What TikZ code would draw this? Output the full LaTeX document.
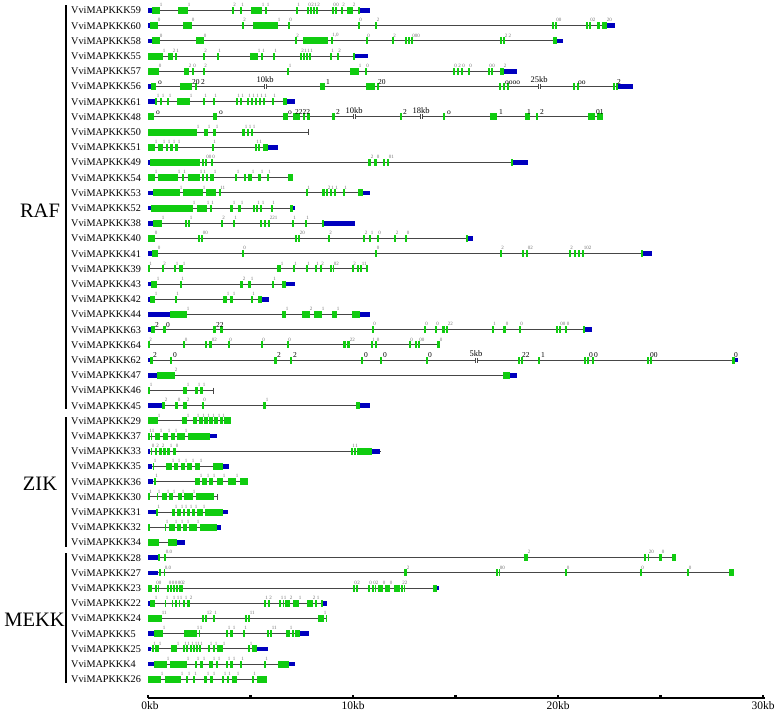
\documentclass[tikz,border=0pt]{standalone}
\usepackage{fontspec}
\setmainfont{Liberation Serif}
\definecolor{exgreen}{RGB}{16,204,16}
\definecolor{utrblue}{RGB}{0,0,190}
\definecolor{intr}{RGB}{70,70,70}
\tikzset{
 intron/.style={draw=intr,line width=0.9pt},
 exon/.style={fill=exgreen},
 utr/.style={fill=utrblue},
 gname/.style={anchor=west,inner sep=0pt,font=\fontsize{10.2}{10}\selectfont},
 ph/.style={anchor=south west,inner sep=0pt,text=black!55,font=\fontsize{5}{5}\selectfont},
 phb/.style={anchor=south west,inner sep=0pt,text=black,font=\fontsize{7.5}{7.5}\selectfont},
 grp/.style={font=\fontsize{20.5}{20.5}\selectfont,inner sep=0pt},
 axl/.style={anchor=north,inner sep=0pt,font=\fontsize{11.5}{11.5}\selectfont},
}
\newcommand\gRow[3]{\pgfmathsetmacro\Y{10.5+#1*15.2}\node[gname] (g#2) at (71,\Y) {VviMAPKKK#2};\draw[intron] (148,\Y) -- (#3,\Y);}
\newcommand\gEx[3]{\fill[exon] (#1,\Y-3.5) rectangle (#2,\Y+3.5);\if\relax\detokenize{#3}\relax\else\node[ph] at (#2-0.3,\Y-3.6) {#3};\fi}
\newcommand\gUt[2]{\fill[utr] (#1,\Y-2.3) rectangle (#2,\Y+2.3);}
\newcommand\gLb[2]{\node[phb] at (#1,\Y-2) {#2};}
\newcommand\gBrk[2]{\fill[white] (#1-0.5,\Y-0.9) rectangle (#1+2.5,\Y+0.9);\draw[intr,line width=0.5pt] (#1,\Y-2.5) -- (#1,\Y+2.5) (#1+2,\Y-2.5) -- (#1+2,\Y+2.5);\node[anchor=south,inner sep=0pt,font=\fontsize{8.5}{8.5}\selectfont] at (#1+1,\Y-3.5) {#2};}
\newcommand\gTick[1]{\draw[intr,line width=0.7pt] (#1,\Y-3) -- (#1,\Y+3);}
\begin{document}
\begin{tikzpicture}[x=1pt,y=-1pt]
\useasboundingbox (0,0) rectangle (778,712);
\fill[white] (0,0) rectangle (778,712);
% group bars
\draw[line width=1.8pt] (66,5) -- (66,409);
\draw[line width=1.8pt] (66,417) -- (66,547);
\draw[line width=1.8pt] (66,553) -- (66,683);
\node[grp] (raf) at (40,211) {RAF};
\node[grp] (zik) at (40,484) {ZIK};
\node[grp] (mekk) at (34.5,620) {MEKK};
% RAF
\gRow{0}{59}{370}\gUt{148}{152}\gEx{152}{160}{1}\gEx{178}{188}{1}\gEx{232}{233.5}{2}\gEx{240}{241.5}{1}\gEx{251}{262}{1}\gEx{265}{267}{1}\gEx{296}{297.5}{1}\gEx{307}{308.5}{0}\gEx{310}{311.5}{2}\gEx{313}{314.5}{1}\gEx{316}{317.5}{2}\gEx{332}{333.5}{0}\gEx{335}{336.5}{0}\gEx{341}{342.5}{2}\gEx{347}{353}{2}\gEx{358}{360}{}\gUt{360}{370}
\gRow{1}{60}{615}\gUt{148}{150}\gEx{150}{158}{0}\gEx{183}{192}{0}\gEx{242}{243.5}{2}\gEx{253}{278}{1}\gEx{288}{289.5}{0}\gEx{358}{359.5}{0}\gEx{375}{377}{2}\gEx{552}{553.5}{}\gEx{555}{556.5}{00}\gEx{586}{587.5}{}\gEx{589}{590.5}{02}\gEx{597}{600}{}\gEx{602}{607}{20}\gUt{607}{615}
\gRow{2}{58}{563}\gUt{148}{152}\gEx{152}{160}{0}\gEx{196}{204}{0}\gEx{295}{296.5}{2}\gEx{303}{328}{}\gEx{331}{332.5}{1,0}\gEx{366}{367.5}{0}\gEx{392}{393.5}{2}\gEx{405}{406.5}{}\gEx{408}{409.5}{}\gEx{411}{412.5}{000}\gEx{500}{501.5}{}\gEx{503}{505}{2 2}\gEx{553}{557}{}\gUt{557}{563}
\gRow{3}{55}{368}\gEx{148}{163}{1}\gEx{168}{173}{2}\gEx{175}{176.5}{1}\gEx{203}{204.5}{2}\gEx{217}{218.5}{1}\gEx{250}{258}{1}\gEx{261}{262.5}{1}\gEx{273}{274.5}{1}\gEx{300}{301.5}{2}\gEx{303}{304.5}{1}\gEx{306}{307.5}{1}\gEx{309}{310.5}{1}\gEx{330}{331.5}{1}\gEx{337}{338.5}{2}\gEx{353}{355}{}\gUt{355}{368}
\gRow{4}{57}{517}\gEx{148}{159}{0}\gEx{184}{189}{2}\gEx{192}{193.5}{0}\gEx{203}{204.5}{2}\gEx{287}{289}{1}\gEx{350}{359}{1}\gEx{365}{366.5}{0}\gEx{453}{454.5}{0}\gEx{457}{458.5}{2}\gEx{461}{462.5}{0}\gEx{468}{469.5}{0}\gEx{488}{489.5}{0}\gEx{491}{492.5}{0}\gEx{500}{501.5}{}\gEx{502}{504}{2}\gUt{504}{517}
\gRow{5}{56}{633}\gUt{148}{151}\gEx{151}{156}{}\gLb{158}{o}\gEx{180}{192}{}\gEx{195}{196.5}{}\gLb{192}{20}\gLb{201}{2}\gBrk{264}{10kb}\gEx{320}{325}{}\gLb{326}{1}\gEx{366}{375}{}\gEx{377}{378.5}{}\gLb{378}{20}\gEx{499}{500.5}{}\gEx{503}{505}{}\gEx{507}{508.5}{}\gLb{505}{oooo}\gBrk{538}{25kb}\gEx{573}{575}{}\gEx{577}{579}{}\gLb{578}{oo}\gEx{613}{614.5}{}\gEx{616}{618}{}\gLb{617}{2}\gUt{618}{633}
\gRow{6}{61}{295}\gUt{148}{155}\gEx{155}{157}{1}\gEx{160}{162}{1}\gEx{167}{169}{1}\gEx{177}{190}{1}\gEx{203}{204.5}{1}\gEx{213}{214.5}{1}\gEx{236}{237.5}{1}\gEx{240}{241.5}{1}\gEx{247}{248.5}{1}\gEx{251}{252.5}{1}\gEx{255}{256.5}{1}\gEx{259}{260.5}{1}\gEx{263}{264.5}{1}\gEx{272}{273.5}{1}\gEx{283}{287}{}\gUt{287}{295}
\gRow{7}{48}{603}\gEx{148}{154}{}\gLb{156}{o}\gEx{213}{217}{}\gLb{219}{o}\gEx{283}{288}{}\gLb{288}{o}\gEx{293}{300}{}\gEx{303}{305}{}\gEx{307}{310}{}\gLb{295}{2222}\gEx{332}{335}{}\gLb{336}{2}\gBrk{353}{10kb}\gEx{400}{401.5}{}\gLb{403}{2}\gBrk{420}{18kb}\gEx{443}{445}{}\gLb{447}{o}\gEx{490}{497}{}\gLb{499}{1}\gEx{525}{530}{}\gLb{527}{1}\gEx{536}{538}{}\gLb{540}{2}\gEx{588}{595}{}\gEx{597}{603}{}\gLb{596}{01}
\gRow{8}{50}{308}\gEx{148}{197}{1}\gEx{204}{208}{1}\gEx{213}{216}{1}\gEx{242}{245}{1}\gEx{247}{249}{1}\gEx{251}{253}{1}\gTick{308}
\gRow{9}{51}{278}\gEx{148}{155}{1}\gEx{158}{163}{1}\gEx{166}{168}{1}\gEx{170}{173}{1}\gEx{175}{178}{1}\gEx{212}{213.5}{1}\gEx{255}{256.5}{1}\gEx{258}{259.5}{1}\gEx{263}{268}{}\gUt{268}{278}
\gRow{10}{49}{528}\gUt{148}{150}\gEx{150}{200}{}\gEx{202}{203.5}{}\gEx{205}{206.5}{00}\gEx{211}{212.5}{0}\gEx{368}{371}{2}\gEx{374}{377}{0}\gEx{383}{385}{}\gEx{387}{389}{01}\gEx{511}{513}{}\gUt{513}{528}
\gRow{11}{54}{293}\gEx{148}{155}{1}\gEx{158}{178}{1}\gEx{182}{183.5}{1}\gEx{188}{200}{1}\gEx{202}{203.5}{1}\gEx{206}{208}{}\gEx{210}{214}{1}\gEx{235}{237}{1}\gEx{244}{246}{}\gEx{248}{252}{1}\gEx{258}{261}{1}\gEx{267}{268.5}{1}\gEx{288}{293}{}
\gRow{12}{53}{370}\gUt{148}{153}\gEx{153}{180}{1}\gEx{183}{203}{1}\gEx{206}{216}{}\gEx{219}{220.5}{11}\gEx{306}{307.5}{1}\gEx{322}{325}{}\gEx{326}{328}{2}\gEx{330}{331.5}{1}\gEx{334}{335.5}{1}\gEx{343}{344.5}{1}\gEx{358}{363}{}\gUt{363}{370}
\gRow{13}{52}{295}\gUt{148}{151}\gEx{151}{193}{1}\gEx{197}{207}{1}\gEx{210}{211.5}{1}\gEx{230}{233}{1}\gEx{238}{241}{1}\gEx{253}{255}{}\gEx{256}{257.5}{1}\gEx{260}{262}{1}\gEx{271}{272.5}{1}\gEx{290}{293}{}\gUt{293}{295}
\gRow{14}{38}{355}\gUt{148}{153}\gEx{153}{162}{1}\gEx{185}{187}{}\gEx{188}{190}{1}\gEx{221}{222.5}{2}\gEx{233}{234.5}{1}\gEx{260}{262}{}\gEx{264}{266}{}\gEx{268}{270}{221}\gEx{292}{293.5}{1}\gEx{305}{306.5}{1}\gEx{322}{324}{}\gUt{324}{355}
\gRow{15}{40}{473}\gEx{148}{155}{0}\gEx{198}{200}{}\gEx{201}{203}{00}\gEx{295}{297}{}\gEx{298}{300}{20}\gEx{328}{329.5}{2}\gEx{363}{365}{2}\gEx{369}{371}{1}\gEx{377}{378.5}{0}\gEx{394}{396}{2}\gEx{405}{407}{0}\gEx{466}{468}{}\gUt{468}{473}
\gRow{16}{41}{652}\gUt{148}{152}\gEx{152}{158}{0}\gEx{242}{243.5}{0}\gEx{375}{377}{0}\gEx{500}{501.5}{2}\gEx{522}{524}{}\gEx{526}{528}{02}\gEx{569}{570.5}{2}\gEx{574}{575.5}{}\gEx{578}{579.5}{}\gEx{582}{584}{102}\gEx{641}{643}{}\gUt{643}{652}
\gRow{17}{39}{367}\gEx{148}{149.5}{1}\gEx{162}{163.5}{2}\gEx{174}{176}{1}\gEx{179}{183}{1}\gEx{277}{281}{1}\gEx{293}{294.5}{1}\gEx{306}{307.5}{1}\gEx{315}{316.5}{1}\gEx{320}{321.5}{2}\gEx{330}{331.5}{}\gEx{332.5}{334}{02}\gEx{352}{353.5}{2}\gEx{357}{358.5}{}\gEx{360}{362}{11}\gEx{366}{367.5}{}
\gRow{18}{43}{295}\gUt{148}{151}\gEx{151}{157}{1}\gEx{180}{181.5}{1}\gEx{240}{243}{2}\gEx{248}{251}{1}\gEx{272}{273.5}{1}\gEx{282}{286}{}\gUt{286}{295}
\gRow{19}{42}{269}\gUt{148}{150}\gEx{150}{155}{1}\gEx{175}{176.5}{1}\gEx{223}{227}{1}\gEx{230}{233}{1}\gEx{251}{252.5}{1}\gEx{258}{262}{}\gUt{262}{269}
\gRow{20}{44}{370}\gUt{148}{170}\gEx{170}{187}{1}\gEx{282}{286}{1}\gEx{302}{310}{2}\gEx{314}{322}{1}\gEx{332}{337}{1}\gEx{352}{360}{}\gUt{360}{370}
\gRow{21}{63}{592}\gUt{148}{151}\gEx{151}{155}{}\gLb{155}{2}\gEx{163}{166}{}\gLb{166}{0}\gEx{213}{216}{}\gEx{220}{223}{}\gLb{216}{22}\gEx{372}{373.5}{0}\gEx{424}{425.5}{0}\gEx{435}{436.5}{0}\gEx{442}{445}{}\gEx{446}{448}{22}\gEx{492}{493.5}{1}\gEx{503}{506}{0}\gEx{519}{520.5}{0}\gEx{556}{557.5}{}\gEx{559}{560.5}{00}\gEx{565}{567}{0}\gEx{583}{585}{}\gUt{585}{592}
\gRow{22}{64}{440}\gEx{148}{149.5}{2}\gEx{183}{185}{0}\gEx{205}{207}{}\gEx{209}{212}{02}\gEx{228}{229.5}{0}\gEx{261}{262.5}{0}\gEx{287}{288.5}{0}\gEx{343}{346}{}\gEx{347}{350}{22}\gEx{371}{372.5}{1}\gEx{375}{377}{0}\gEx{409}{410.5}{0}\gEx{415}{416.5}{}\gEx{418}{419.5}{00}\gEx{437}{440}{0}
\gRow{23}{62}{738}\gUt{148}{150}\gEx{150}{153}{}\gLb{153}{2}\gEx{170}{172}{}\gLb{173}{0}\gEx{274}{277}{}\gLb{277}{2}\gEx{290}{292}{}\gLb{293}{2}\gEx{361}{363}{}\gLb{364}{0}\gEx{380}{382}{}\gLb{383}{0}\gEx{426}{427.5}{}\gLb{428}{0}\gBrk{475}{5kb}\gEx{518}{520}{}\gEx{521}{523}{}\gLb{522}{22}\gEx{538}{539.5}{}\gLb{541}{1}\gEx{584}{586}{}\gEx{587}{589}{}\gLb{589}{0}\gEx{592}{593.5}{}\gLb{594}{0}\gEx{647}{649}{}\gEx{650}{651.5}{}\gLb{650}{00}\gEx{732}{735}{}\gUt{735}{738}\gLb{734}{0}
\gRow{24}{47}{517}\gUt{148}{157}\gEx{157}{175}{2}\gEx{503}{510}{}\gUt{510}{517}
\gRow{25}{46}{213}\gEx{148}{150}{1}\gEx{183}{187}{1}\gEx{195}{198}{1}\gEx{200}{203}{1}\gTick{213}
\gRow{26}{45}{370}\gUt{148}{162}\gEx{162}{165}{2}\gEx{175}{178}{0}\gEx{183}{187}{2}\gEx{202}{203.5}{0}\gEx{263}{266}{1}\gEx{356}{360}{}\gUt{360}{370}
% ZIK
\gRow{27}{29}{231}\gEx{148}{158}{1}\gEx{182}{187}{1}\gEx{193}{197}{1}\gEx{199}{202.5}{1}\gEx{204}{207.5}{1}\gEx{209}{212.5}{1}\gEx{214}{218}{1}\gEx{219.5}{222.5}{1}\gEx{224}{231}{}
\gRow{28}{37}{217}\gEx{148}{149.5}{1}\gEx{150.5}{152}{1}\gEx{155}{160}{1}\gEx{163}{168}{1}\gEx{171}{175}{1}\gEx{177}{185}{1}\gEx{188}{210}{}\gUt{210}{217}
\gRow{29}{33}{381}\gUt{148}{150}\gEx{150.5}{152}{0}\gEx{155}{156.5}{2}\gEx{159}{162}{2}\gEx{163}{166}{}\gEx{167}{170}{1}\gEx{173}{176}{0}\gEx{351}{352.5}{1}\gEx{354}{355.5}{1}\gEx{357}{372}{}\gUt{372}{380}
\gRow{30}{35}{229}\gUt{148}{152}\gEx{152.5}{154}{1}\gEx{166}{172}{1}\gEx{173.5}{178}{1}\gEx{181}{185}{1}\gEx{187}{192}{1}\gEx{195}{200}{1}\gEx{213}{223}{}\gUt{223}{229}
\gRow{31}{36}{248}\gUt{148}{153}\gEx{154}{155.5}{1}\gEx{195}{200}{1}\gEx{202}{207}{1}\gEx{208.5}{213}{1}\gEx{217}{223}{1}\gEx{228}{236}{1}\gEx{240}{248}{}
\gRow{32}{30}{217}\gEx{148}{149.5}{1}\gEx{156.5}{158}{1}\gEx{162}{167}{1}\gEx{168.5}{173}{1}\gEx{178}{182}{1}\gEx{184}{193}{1}\gEx{196}{214}{}\gTick{217}
\gRow{33}{31}{228}\gUt{148}{156}\gEx{156}{157.5}{1}\gEx{172}{175}{1}\gEx{177}{181}{1}\gEx{182.5}{185}{1}\gEx{187}{190}{1}\gEx{192}{195}{1}\gEx{197}{203}{1}\gEx{205}{223}{}\gUt{223}{228}
\gRow{34}{32}{221}\gEx{148}{149.5}{}\gEx{164.5}{166}{1}\gEx{169}{175}{1}\gEx{177}{181}{1}\gEx{183}{187}{1}\gEx{188.5}{197}{1}\gEx{200}{217}{}\gUt{217}{221}
\gRow{35}{34}{185}\gEx{148}{159}{}\gEx{168}{177}{}\gUt{177}{185}
% MEKK
\gRow{36}{28}{676}\gUt{148}{158}\gEx{158}{160}{}\gEx{164}{166}{0.0}\gEx{524}{528}{2}\gEx{644}{646}{}\gEx{647.5}{649}{20}\gEx{659}{662}{0}\gEx{672}{676}{}
\gRow{37}{27}{734}\gUt{148}{158}\gEx{158.5}{160.5}{}\gEx{163.5}{165}{0.0}\gEx{404}{407}{2}\gEx{496}{497.5}{}\gEx{498.5}{500}{00}\gEx{565}{567}{0}\gEx{640}{641.5}{0}\gEx{687}{689}{0}\gEx{729}{734}{}
\gRow{38}{23}{439}\gEx{148}{152}{}\gEx{155}{156.5}{0}\gEx{157.5}{159}{0}\gEx{167}{169}{0}\gEx{170}{172}{0}\gEx{173}{175}{0}\gEx{176}{178}{0}\gEx{179}{180.5}{0}\gEx{181}{182.5}{2}\gEx{353}{354.5}{0}\gEx{356}{357.5}{2}\gEx{368}{369.5}{0}\gEx{372}{373.5}{0}\gEx{374.5}{376}{2}\gEx{378}{383}{0}\gEx{385}{390}{0}\gEx{394}{400}{}\gEx{401}{402.5}{2}\gEx{403.5}{405}{2}\gEx{433}{437}{}\gUt{437}{439}
\gRow{39}{22}{327}\gUt{148}{150}\gEx{150}{155}{1}\gEx{164.5}{166}{1}\gEx{171.5}{173}{1}\gEx{175}{177}{1}\gEx{178.5}{180}{1}\gEx{183}{185}{1}\gEx{187}{190}{2}\gEx{264}{265.5}{1}\gEx{268}{269.5}{2}\gEx{279}{281}{1}\gEx{282.5}{284}{1}\gEx{285}{290}{2}\gEx{293}{299}{1}\gEx{307}{313}{2}\gEx{315}{317}{1}\gEx{321}{323}{}\gUt{323}{327}
\gRow{40}{24}{327}\gEx{148}{162}{11}\gEx{202}{204}{}\gEx{205}{207}{12}\gEx{213}{214.5}{1}\gEx{245}{247}{}\gEx{248}{250}{11}\gEx{318}{324}{1}\gEx{325.5}{327}{}
\gRow{41}{5}{309}\gUt{148}{154}\gEx{154}{163}{1}\gEx{184}{197}{1}\gEx{198.5}{200}{1}\gEx{226}{228}{1}\gEx{230}{233}{1}\gEx{243}{244.5}{1}\gEx{267}{268.5}{}\gEx{270}{272}{11}\gEx{286}{290}{1}\gEx{292}{294}{}\gEx{295}{300}{}\gUt{300}{309}
\gRow{42}{25}{268}\gUt{148}{151}\gEx{152}{153.5}{1}\gEx{154.5}{159}{1}\gEx{171}{177}{1}\gEx{183}{184.5}{1}\gEx{186}{187.5}{1}\gEx{190}{191.5}{1}\gEx{193}{195}{1}\gEx{196}{197.5}{1}\gEx{199}{200.5}{1}\gEx{208}{210}{1}\gEx{213}{215}{1}\gEx{217}{223}{1}\gEx{248}{250}{1}\gEx{252}{257}{}\gUt{257}{268}
\gRow{43}{4}{295}\gUt{148}{154}\gEx{154}{167}{1}\gEx{170}{187}{1}\gEx{195}{197}{1}\gEx{200}{203}{1}\gEx{209}{213}{1}\gEx{216}{218}{1}\gEx{226}{228}{1}\gEx{230}{233}{1}\gEx{240}{241.5}{1}\gEx{264}{265.5}{1}\gEx{278}{289}{}\gUt{289}{295}
\gRow{44}{26}{267}\gEx{148}{161}{1}\gEx{165}{181}{1}\gEx{186}{188}{1}\gEx{193}{194.5}{1}\gEx{204}{207}{1}\gEx{210}{213}{1}\gEx{222}{224}{1}\gEx{227}{228.5}{1}\gEx{232}{237}{1}\gEx{252}{253.5}{1}\gEx{257}{267}{}
% axis
\draw[line width=1.1pt] (148,698) -- (765,698);
\foreach \t in {148,250.5,353,455.5,558,660.5,763}{\fill (\t-1.2,695) rectangle (\t+1.2,698);}
\node[axl] (k0) at (150,701.5) {0kb};
\node[axl] (k10) at (353,701.5) {10kb};
\node[axl] (k20) at (558,701.5) {20kb};
\node[axl] (k30) at (763,701.5) {30kb};
\end{tikzpicture}
\end{document}
